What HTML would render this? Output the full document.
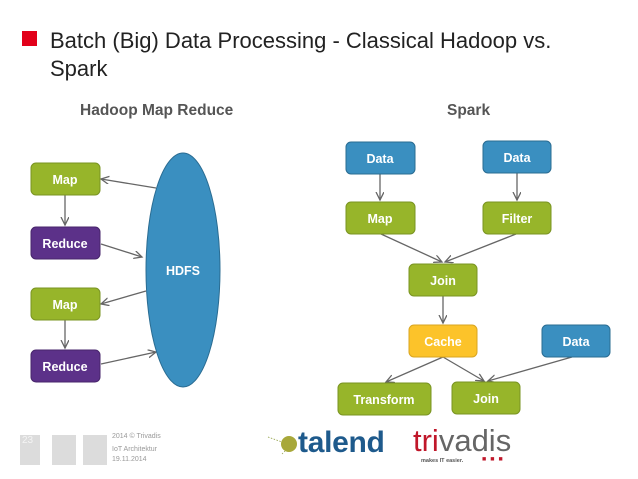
<!DOCTYPE html>
<html><head><style>
body{margin:0;width:638px;height:479px;background:#fff;position:relative;overflow:hidden;font-family:"Liberation Sans",sans-serif}
.t{position:absolute}
</style></head><body>
<div class="t" style="left:22px;top:31px;width:15px;height:15px;background:#e2001a"></div>
<div class="t" style="left:50px;top:27px;font-size:22px;color:#222;line-height:28px">Batch (Big) Data Processing - Classical Hadoop vs.<br>Spark</div>
<div class="t" style="left:80px;top:102px;font-size:15.5px;font-weight:bold;color:#555">Hadoop Map Reduce</div>
<div class="t" style="left:447px;top:102px;font-size:15.5px;font-weight:bold;color:#555">Spark</div>
<svg class="t" style="left:0;top:0" width="638" height="479" font-family="Liberation Sans, DejaVu Sans, sans-serif" font-weight="bold" font-size="12.5" fill="#fff">
<defs><marker id="a" markerWidth="10" markerHeight="10" refX="8" refY="4" orient="auto" markerUnits="userSpaceOnUse"><path d="M0,0 L8,4 L0,8" fill="none" stroke="#666" stroke-width="1.3"/></marker></defs>
<g stroke="#666" stroke-width="1.3" fill="none" marker-end="url(#a)">
<line x1="65" y1="195" x2="65" y2="225"/>
<line x1="65" y1="320" x2="65" y2="348"/>
<line x1="156" y1="188" x2="101" y2="179"/>
<line x1="101" y1="244" x2="142" y2="257"/>
<line x1="146" y1="291" x2="101" y2="304"/>
<line x1="101" y1="364" x2="156" y2="352"/>
<line x1="380" y1="174" x2="380" y2="200"/>
<line x1="517" y1="173" x2="517" y2="200"/>
<line x1="381" y1="234" x2="442" y2="262"/>
<line x1="516" y1="234" x2="445" y2="262"/>
<line x1="443" y1="296" x2="443" y2="323"/>
<line x1="443" y1="357" x2="386" y2="382"/>
<line x1="443" y1="357" x2="484" y2="381"/>
<line x1="572" y1="357" x2="488" y2="381"/>
</g>
<ellipse cx="183" cy="270" rx="37" ry="117" fill="#3a8fc0" stroke="#2a6c92"/>
<text x="183" y="275" text-anchor="middle">HDFS</text>
<g stroke-width="1">
<rect x="31" y="163" width="69" height="32" rx="5" fill="#97b52a" stroke="#7a9422"/>
<rect x="31" y="227" width="69" height="32" rx="5" fill="#5c3189" stroke="#47256b"/>
<rect x="31" y="288" width="69" height="32" rx="5" fill="#97b52a" stroke="#7a9422"/>
<rect x="31" y="350" width="69" height="32" rx="5" fill="#5c3189" stroke="#47256b"/>
<rect x="346" y="142" width="69" height="32" rx="5" fill="#3a8fc0" stroke="#2a6c92"/>
<rect x="483" y="141" width="68" height="32" rx="5" fill="#3a8fc0" stroke="#2a6c92"/>
<rect x="346" y="202" width="69" height="32" rx="5" fill="#97b52a" stroke="#7a9422"/>
<rect x="483" y="202" width="68" height="32" rx="5" fill="#97b52a" stroke="#7a9422"/>
<rect x="409" y="264" width="68" height="32" rx="5" fill="#97b52a" stroke="#7a9422"/>
<rect x="409" y="325" width="68" height="32" rx="5" fill="#fcc32a" stroke="#d9a520"/>
<rect x="542" y="325" width="68" height="32" rx="5" fill="#3a8fc0" stroke="#2a6c92"/>
<rect x="338" y="383" width="93" height="32" rx="5" fill="#97b52a" stroke="#7a9422"/>
<rect x="452" y="382" width="68" height="32" rx="5" fill="#97b52a" stroke="#7a9422"/>
</g>
<g text-anchor="middle">
<text x="65" y="184">Map</text><text x="65" y="248">Reduce</text>
<text x="65" y="309">Map</text><text x="65" y="371">Reduce</text>
<text x="380" y="163">Data</text><text x="517" y="162">Data</text>
<text x="380" y="223">Map</text><text x="517" y="223">Filter</text>
<text x="443" y="285">Join</text><text x="443" y="346">Cache</text>
<text x="576" y="346">Data</text><text x="384" y="404">Transform</text>
<text x="486" y="403">Join</text>
</g>
<g stroke="#8a9a3a" stroke-width="0.7" stroke-dasharray="1.5,1.5"><line x1="268" y1="437" x2="285" y2="443"/><line x1="282" y1="454" x2="288" y2="448"/></g>
<circle cx="289" cy="444" r="8" fill="#a8a83a"/>
</svg>
<div class="t" style="left:20px;top:435px;width:18px;height:30px;background:#dcdcdc;color:#f4f4f4;font-size:10px;padding-left:2px">23</div>
<div class="t" style="left:52px;top:435px;width:24px;height:30px;background:#dcdcdc"></div>
<div class="t" style="left:83px;top:435px;width:24px;height:30px;background:#dcdcdc"></div>
<div class="t" style="left:112px;top:432px;font-size:7px;color:#999;line-height:10px">2014 © Trivadis<br><span style="display:block;margin-top:3px">IoT Architektur<br>19.11.2014</span></div>
<div class="t" style="left:298px;top:426px;font-size:30px;font-weight:bold;color:#1e5a8c;letter-spacing:-0.3px">talend</div>
<div class="t" style="left:413px;top:423px;font-size:31px;color:#666"><span style="color:#c0172a">tri</span>vadis</div>
<div class="t" style="left:421px;top:458px;font-size:5.5px;color:#555;font-weight:bold">makes IT easier.</div>
<div class="t" style="left:482px;top:456px;font-size:7px;color:#c0172a;letter-spacing:4px">■■■</div>
</body></html>
